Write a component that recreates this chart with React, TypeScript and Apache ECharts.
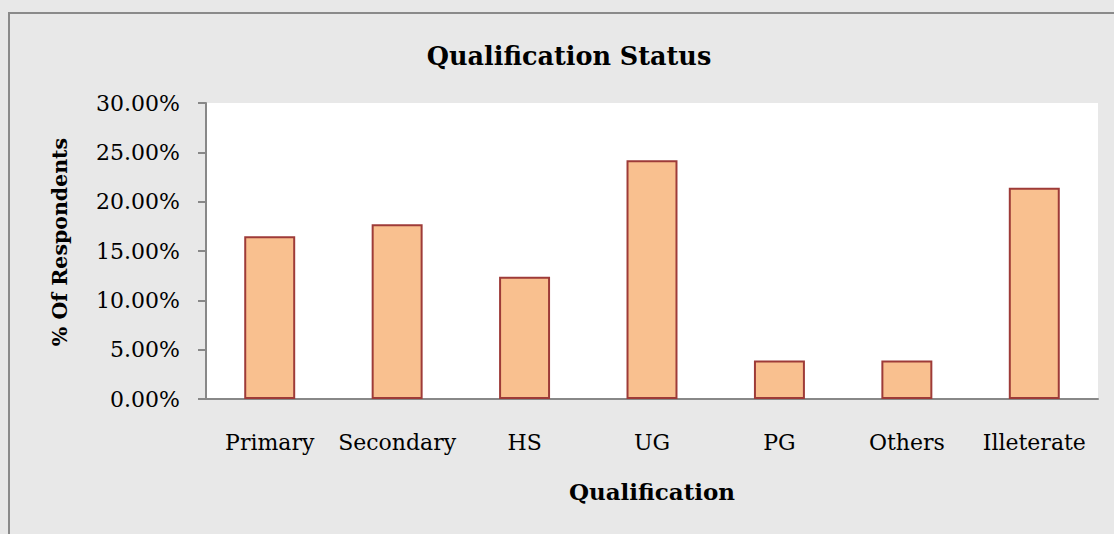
import React, { useEffect, useRef } from "react";
import * as echarts from "echarts";

const categories = ["Primary", "Secondary", "HS", "UG", "PG", "Others", "Illeterate"];
const values = [16.5, 17.7, 12.4, 24.2, 3.9, 3.9, 21.4];
const yTicks = { min: 0, max: 30, interval: 5 };

const FONT = "'DejaVu Serif', serif";

export default function App() {
  const ref = useRef<HTMLDivElement>(null);
  useEffect(() => {
    document.body.style.margin = "0";
    if (!ref.current) return;
    const chart = echarts.init(ref.current, undefined, { renderer: "svg" });
    chart.setOption({
      animation: false,
      backgroundColor: "#e8e8e8",
      graphic: [
        {
          type: "rect",
          shape: { x: 9, y: 13, width: 1300, height: 700 },
          style: { fill: "none", stroke: "#8a8a8a", lineWidth: 2 },
          silent: true,
        },
        {
          type: "text",
          x: 569,
          y: 56,
          style: {
            text: "Qualification Status",
            fill: "#000",
            font: `bold 25.5px ${FONT}`,
            textAlign: "center",
            textVerticalAlign: "middle",
          },
        },
        {
          type: "text",
          x: 60,
          y: 242,
          rotation: Math.PI / 2,
          style: {
            text: "% Of Respondents",
            fill: "#000",
            font: `bold 20.5px ${FONT}`,
            textAlign: "center",
            textVerticalAlign: "middle",
          },
        },
      ],
      grid: {
        left: 206,
        top: 103,
        width: 892,
        height: 296,
        show: true,
        backgroundColor: "#ffffff",
        borderWidth: 0,
      },
      xAxis: {
        type: "category",
        data: categories,
        name: "Qualification",
        nameLocation: "middle",
        nameGap: 81,
        nameTextStyle: { fontFamily: FONT, fontSize: 23, fontWeight: "bold", color: "#000" },
        axisLine: { lineStyle: { color: "#888", width: 2 } },
        axisTick: { show: false },
        axisLabel: { interval: 0, margin: 32, fontFamily: FONT, fontSize: 22, color: "#000" },
        splitLine: { show: false },
      },
      yAxis: {
        type: "value",
        min: yTicks.min,
        max: yTicks.max,
        interval: yTicks.interval,
        axisLine: { show: true, lineStyle: { color: "#888", width: 2 } },
        axisTick: { show: true, length: 8, lineStyle: { color: "#888", width: 2 } },
        axisLabel: {
          margin: 26,
          fontFamily: FONT,
          fontSize: 22,
          color: "#000",
          formatter: (v: number) => v.toFixed(2) + "%",
        },
        splitLine: { show: false },
      },
      series: [
        {
          type: "bar",
          data: values,
          barCategoryGap: "60%",
          itemStyle: { color: "#F9C08F", borderColor: "#9E3B38", borderWidth: 2 },
        },
      ],
    });
    return () => chart.dispose();
  }, []);
  return <div ref={ref} style={{ width: 1114, height: 534 }} />;
}
